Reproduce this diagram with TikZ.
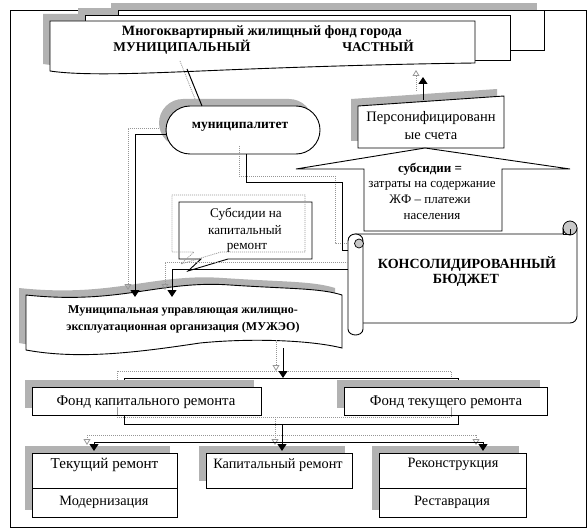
\documentclass[tikz,border=0pt]{standalone}
\usepackage{fontspec}
\usepackage{graphicx}
\setmainfont{Liberation Serif}
\usetikzlibrary{arrows.meta}
\definecolor{hatch}{RGB}{178,178,178}
\definecolor{ghostc}{RGB}{150,150,150}
\definecolor{curl}{RGB}{200,200,200}
\newcommand\fsz[1]{\fontsize{#1}{#1}\selectfont}
\begin{document}
\begin{tikzpicture}[x=1pt,y=-1pt,
  shp/.style={draw=black,fill=white,line width=0.9pt},
  hshadow/.style={preaction={fill=hatch,draw=none,transform canvas={xshift=-7pt,yshift=7pt}}},
  wire/.style={draw=black,line width=1pt},
  ghost/.style={draw=ghostc,line width=0.8pt,dash pattern=on 1pt off 1pt},
  tipb/.style={-{Triangle[length=7pt,width=9pt]}},
  tipg/.style={-{Triangle[open,length=6pt,width=7pt]}},
  boxn/.style={shp,hshadow,inner sep=0pt,anchor=north west},
  lbl/.style={inner sep=0pt,anchor=base},
  reg/.style={lbl,font=\fsz{14.3}},
  sml/.style={lbl,font=\fsz{13.2}},
  hdr/.style={lbl,font=\bfseries\fsz{13.4}},
  bld/.style={lbl,font=\bfseries\fsz{12}}]
\useasboundingbox (0,0) rectangle (588,529);
% frame
\draw[line width=0.9pt] (10,10) rectangle (586,527);
% multi-document
\fill[hatch] (111,3) rectangle (537,43);
\fill[hatch] (78,8) rectangle (503,53);
\fill[hatch] (43,14) -- (468,14) -- (468,56) .. controls (393,57) and (323,59) .. (243,62) .. controls (163,65) and (83,70) .. (43,64) -- cycle;
\draw[shp] (118,10) rectangle (544,50);
\draw[shp] (85,15) rectangle (510,60);
\draw[shp] (50,21) -- (475,21) -- (475,63) .. controls (400,64) and (330,66) .. (250,69) .. controls (170,72) and (90,77) .. (50,71) -- cycle;
\node[lbl] (doc1) at (262,36) {\resizebox{280pt}{\height}{\bfseries\fsz{14.2}Многоквартирный жилищный фонд города}};
\node[hdr] (docm) at (182,52) {МУНИЦИПАЛЬНЫЙ};
\node[hdr] (docc) at (378,52) {ЧАСТНЫЙ};
% municipality
\node[shp,hshadow,minimum width=154pt,minimum height=48pt,rounded corners=24pt,inner sep=0pt] (muni) at (243,130) {};
\node[lbl,font=\bfseries\fsz{13.5}] (munit) at (240,129) {муниципалитет};
% personified accounts
\draw[shp,hshadow] (358,106) -- (504,96) -- (504,148) -- (358,148) -- cycle;
\node[lbl,font=\fsz{14.5}] (pers1) at (431,121.7) {Персонифицированн};
\node[lbl,font=\fsz{14.5}] (pers2) at (431,140) {ые счета};
% up-arrow callout
\draw[shp] (425,148) -- (570,169) -- (502,169) -- (502,231) -- (364,231) -- (364,169) -- (296,169) -- cycle;
\node[lbl,font=\bfseries\fsz{13}] (sub1) at (430,172.7) {субсидии =};
\node[lbl,font=\fsz{13}] (sub2) at (432,187.3) {затраты на содержание};
\node[lbl,font=\fsz{13}] (sub3) at (430,203.3) {ЖФ – платежи};
\node[lbl,font=\fsz{13}] (sub4) at (432,219.3) {населения};
% subsidy callout box
\draw[line width=0.9pt] (179,202) -- (312,202) -- (312,259) -- (228,259) -- (188,271) -- (201,259) -- (179,259) -- cycle;
\draw[ghost] (172,195) -- (305,195) -- (305,252) -- (221,252) -- (181,264) -- (194,252) -- (172,252) -- cycle;
\node[sml] (cap1) at (246,217.3) {Субсидии на};
\node[sml] (cap2) at (245,234) {капитальный};
\node[sml] (cap3) at (247,249.3) {ремонт};
% MUZhEO
\draw[shp,hshadow] (26,295) .. controls (120,305) and (160,280) .. (230,285) .. controls (290,289) and (320,288) .. (342,295) -- (342,348) .. controls (310,340) and (250,338) .. (200,343) .. controls (140,352) and (80,360) .. (26,350) -- cycle;
\node[bld] (mu1) at (183,313.3) {Муниципальная управляющая жилищно-};
\node[bld] (mu2) at (183,330.7) {эксплуатационная организация (МУЖЭО)};
% level 2
\draw[ghost] (117,371) rectangle (451,417);
\draw[wire,line width=0.9pt] (124,378) rectangle (458,424);
\node[boxn,minimum width=229pt,minimum height=28pt] (fkr) at (32,387) {};
\node[boxn,minimum width=203pt,minimum height=28pt] (ftr) at (344,387) {};
\node[lbl,font=\fsz{14.8}] (fkrt) at (146,405) {Фонд капитального ремонта};
\node[lbl,font=\fsz{14.8}] (ftrt) at (446,405) {Фонд текущего ремонта};
\draw[ghostc,line width=0.8pt] (117,407) -- (117,415) (451,407) -- (451,415);
% level 3
\node[boxn,minimum width=145pt,minimum height=64pt] (b1) at (32,453) {};
\node[boxn,minimum width=146pt,minimum height=35pt] (b2) at (206,453) {};
\node[boxn,minimum width=147pt,minimum height=64pt] (b3) at (379,453) {};
\draw[line width=0.9pt] (32,488) -- (177,488) (379,488) -- (526,488);
\node[lbl,font=\fsz{15.1}] (b1a) at (104.5,468.3) {Текущий ремонт};
\node[reg] (b1b) at (104,505.7) {Модернизация};
\node[reg] (b2a) at (278,468.3) {Капитальный ремонт};
\node[reg] (b3a) at (453,467.7) {Реконструкция};
\node[reg] (b3b) at (452,505) {Реставрация};
% consolidated budget scroll
\draw[shp] (355,234) -- (563,234) -- (563,228) -- (577,228) -- (577,316) .. controls (577,320) and (574,323) .. (570,323) -- (363,323);
\draw[fill=curl,line width=0.8pt] (570,228) circle[radius=7pt];
\draw[line width=0.7pt] (563,229) -- (563,234.5) -- (570,234.5) -- (570,229);
\draw[shp] (348,241) .. controls (348,236) and (352,234) .. (355.5,234) .. controls (359,234) and (363,236) .. (363,241) -- (363,329) .. controls (363,333) and (359,335) .. (355.5,335) .. controls (352,335) and (348,333) .. (348,329) -- cycle;
\draw[fill=curl,line width=0.7pt] (359,243.5) circle[radius=4.5pt];
\node[lbl,font=\bfseries\fsz{14}] (kb1) at (467,268.3) {КОНСОЛИДИРОВАННЫЙ};
\node[lbl,font=\bfseries\fsz{14}] (kb2) at (466,283.3) {БЮДЖЕТ};
% connection points
\coordinate (aS) at (187,69); \coordinate (aE) at (202,106);
\coordinate (bS) at (423,100); \coordinate (bE) at (423,77);
\coordinate (cS) at (166,135); \coordinate (cE) at (135,297);
\coordinate (dS) at (246,154); \coordinate (dE) at (348,250);
\coordinate (eS) at (348,269); \coordinate (eE) at (172,297);
\coordinate (gS) at (283,348); \coordinate (gE) at (283,378);
\coordinate (hS) at (282,424); \coordinate (hJ) at (282,442);
% ghost connectors
\draw[ghost] (180,61) -- (195,99);
\draw[ghost,tipg] (416,91) -- (416,70);
\draw[ghost,tipg] (159,128) -- (128,128) -- (128,290);
\draw[ghost] (239,146) -- (239,176) -- (335,176) -- (335,243) -- (348,243);
\draw[ghost,tipg] (348,262) -- (165,262) -- (165,290);
\draw[ghost,tipg] (276,340) -- (276,371);
\draw[ghost] (275,417) -- (275,435) (87,435) -- (476,435);
\draw[ghost,tipg] (87,435) -- (87,445);
\draw[ghost,tipg] (275,435) -- (275,445);
\draw[ghost,tipg] (476,435) -- (476,445);
% black connectors
\draw[wire] (aS) -- (aE);
\draw[wire,tipb] (bS) -- (bE);
\draw[wire,tipb] (cS) -- (cS -| cE) -- (cE);
\draw[wire] (dS) -- (246,183) -- (342,183) -- (342,250) -- (dE);
\draw[wire,tipb] (eS) -- (eS -| eE) -- (eE);
\draw[wire,tipb] (gS) -- (gE);
\draw[wire] (hS) -- (hJ);
\draw[wire] (94,442) -- (483,442);
\draw[wire,tipb] (94,442) -- (94,451);
\draw[wire,tipb] (hJ) -- (282,451);
\draw[wire,tipb] (483,442) -- (483,451);
\end{tikzpicture}
\end{document}
